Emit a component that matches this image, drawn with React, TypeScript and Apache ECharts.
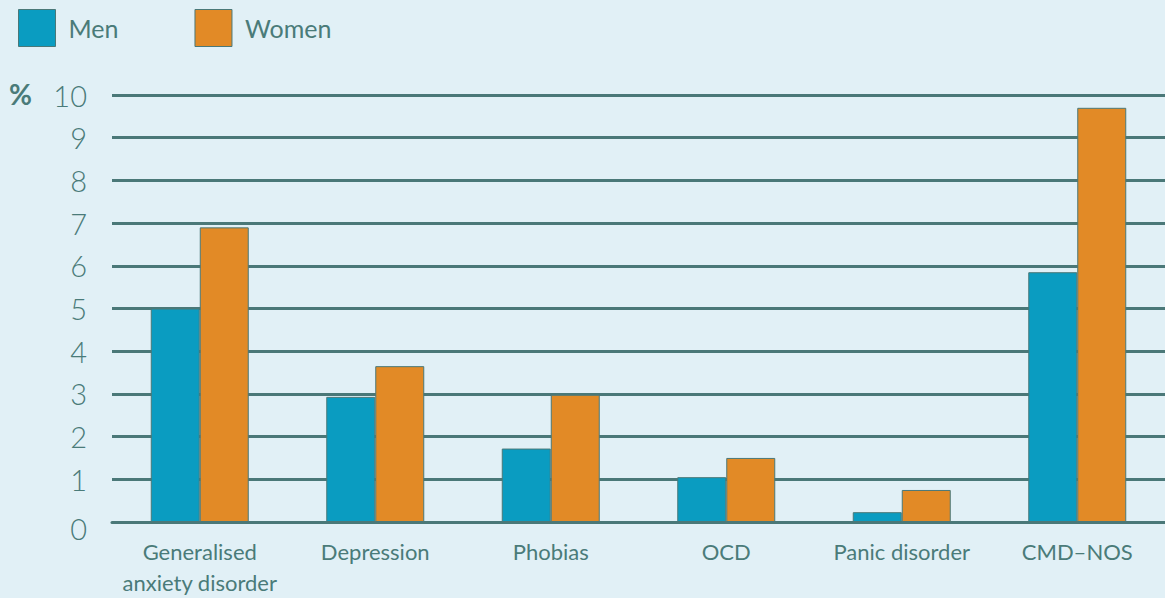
import React, { useEffect, useRef } from "react";
import * as echarts from "echarts";

const categories = ["Generalised\nanxiety disorder", "Depression", "Phobias", "OCD", "Panic disorder", "CMD–NOS"];
const menValues = [5.0, 2.93, 1.72, 1.05, 0.23, 5.85];
const womenValues = [6.9, 3.65, 2.98, 1.5, 0.75, 9.7];
const seriesNames = ["Men", "Women"];

const TEXT = "#4a7b79";
const GRID = "#4a7878";
const BG = "#e1f0f6";
const MEN = "#0a9cc1";
const WOMEN = "#e28a26";
const FONT = "Lato, 'Noto Sans', sans-serif";

export default function App() {
  const ref = useRef<HTMLDivElement>(null);
  useEffect(() => {
    if (!ref.current) return;
    const chart = echarts.init(ref.current, null, { renderer: "svg" });
    chart.setOption({
      animation: false,
      backgroundColor: BG,
      textStyle: { fontFamily: FONT },
      legend: {
        left: 13,
        top: 4,
        itemWidth: 37,
        itemHeight: 37,
        itemGap: 76,
        icon: "rect",
        textStyle: { color: TEXT, fontSize: 25, fontFamily: FONT, padding: [0, 0, 0, 8] },
        itemStyle: { borderColor: GRID, borderWidth: 1 },
        data: seriesNames,
      },
      grid: { left: 112, right: -4, top: 95, bottom: 73, containLabel: false },
      xAxis: {
        type: "category",
        data: categories,
        axisLine: { show: true, lineStyle: { color: GRID, width: 3 } },
        axisTick: { show: false },
        axisLabel: { color: TEXT, fontSize: 22, fontFamily: FONT, margin: 14, lineHeight: 31, interval: 0 },
      },
      yAxis: {
        type: "value",
        min: 0,
        max: 10,
        interval: 1,
        axisLine: { show: false },
        axisTick: { show: false },
        axisLabel: {
          color: TEXT,
          fontSize: 29,
          fontFamily: FONT,
          margin: 25,
          fontWeight: 300,
          formatter: (v: number) => (v === 0 ? "{z|0}" : String(v)),
          rich: {
            z: { color: TEXT, fontSize: 29, fontFamily: FONT, fontWeight: 300, padding: [12, 0, 0, 0] },
          },
        },
        splitLine: { show: true, lineStyle: { color: GRID, width: 3 } },
      },
      graphic: [
        {
          type: "text",
          left: 9,
          top: 80,
          style: { text: "%", fill: TEXT, fontSize: 28, fontWeight: "bold", fontFamily: FONT },
        },
      ],
      series: [
        {
          name: seriesNames[0],
          type: "bar",
          data: menValues,
          barWidth: 49,
          barGap: "0%",
          itemStyle: { color: MEN, borderColor: GRID, borderWidth: 1 },
        },
        {
          name: seriesNames[1],
          type: "bar",
          data: womenValues,
          barWidth: 49,
          barGap: "0%",
          itemStyle: { color: WOMEN, borderColor: GRID, borderWidth: 1 },
        },
      ],
    });
    return () => chart.dispose();
  }, []);
  return (
    <div
      ref={ref}
      style={{ position: "absolute", left: 0, top: 0, width: 1165, height: 598 }}
    />
  );
}
